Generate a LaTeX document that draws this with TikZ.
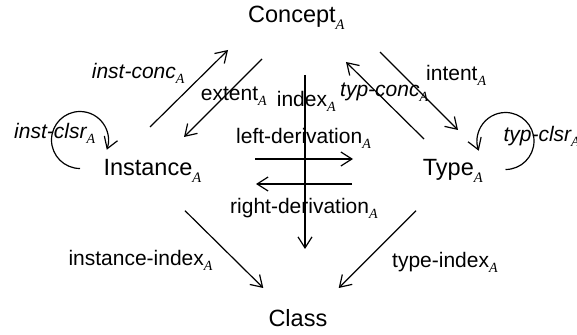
\documentclass[tikz,border=0pt]{standalone}
\usepackage{fontspec}
\setmainfont{Liberation Sans}
\newfontfamily\tms{Liberation Serif}
\usetikzlibrary{arrows.meta}
\newcommand\nA{\raisebox{-7pt}{\fontsize{14.5}{14.5}\selectfont\tms\itshape A}}
\newcommand\lA{\raisebox{-5pt}{\fontsize{14}{14}\selectfont\tms\itshape A}}
\begin{document}
\begin{tikzpicture}[x=1pt,y=1pt,
  nd/.style={anchor=base west,inner sep=0pt,font=\fontsize{23.5}{23.5}\selectfont},
  lb/.style={anchor=base west,inner sep=0pt,font=\fontsize{21}{21}\selectfont},
  ar/.style={line width=1.2pt,-{Straight Barb[length=11pt,width=14pt,line width=1.2pt]}}]
\useasboundingbox (0,0) rectangle (577,334);
% main nodes
\node[nd] (concept) at (248,311.3) {Concept\nA};
\node[nd] (instance) at (103.3,158) {Instance\nA};
\node[nd] (type) at (422.7,158) {Type\nA};
\node[nd] (class) at (268.3,7.3) {Class};
% labels
\node[lb] (lext) at (200.7,233.3) {extent\lA};
\node[lb] (lidx) at (276.7,227.3) {index\lA};
\node[lb] (lld) at (236,190.7) {left-derivation\lA};
\node[lb] (lrd) at (230,120) {right-derivation\lA};
\node[lb] (ltc) at (340,237.3) {\itshape typ-conc\lA};
\node[lb] (lint) at (426,253) {intent\lA};
\node[lb] (lic) at (91.7,255.7) {\itshape inst-conc\lA};
\node[lb] (licl) at (14,195) {\itshape inst-clsr\lA};
\node[lb] (ltcl) at (503.3,192.3) {\itshape typ-clsr\lA};
\node[lb] (lii) at (68.3,68.3) {instance-index\lA};
\node[lb] (lti) at (392,66.7) {type-index\lA};
% coordinates
\coordinate (ic1) at (150,207);   \coordinate (ic2) at (228,284);
\coordinate (ex1) at (262,275);   \coordinate (ex2) at (184,197);
\coordinate (tc1) at (424,195);   \coordinate (tc2) at (346,272);
\coordinate (in1) at (380,282);   \coordinate (in2) at (458,204);
\coordinate (ix1) at (305,259);   \coordinate (ix2) at (305,85);
\coordinate (ld1) at (255,175);   \coordinate (ld2) at (353,175);
\coordinate (rd1) at (352,150);   \coordinate (rd2) at (256,150);
\coordinate (ii1) at (185,123.3); \coordinate (ii2) at (263.3,46);
\coordinate (ti1) at (416,123.3); \coordinate (ti2) at (338.7,46);
\coordinate (icl) at (80,165.5);
\coordinate (tcl) at (505.5,164.5);
% connectors
\draw[ar] (ic1) -- (ic2);
\draw[ar] (ex1) -- (ex2);
\draw[ar] (tc1) -- (tc2);
\draw[ar] (in1) -- (in2);
\draw[ar] (ix1) -- (ix2);
\draw[ar] (ld1) -- (ld2);
\draw[ar] (rd1) -- (rd2);
\draw[ar] (ii1) -- (ii2);
\draw[ar] (ti1) -- (ti2);
\draw[ar] (icl) arc[start angle=270,end angle=-20,radius=28.5];
\draw[ar] (tcl) arc[start angle=270,end angle=560,radius=28.5];
\end{tikzpicture}
\end{document}
